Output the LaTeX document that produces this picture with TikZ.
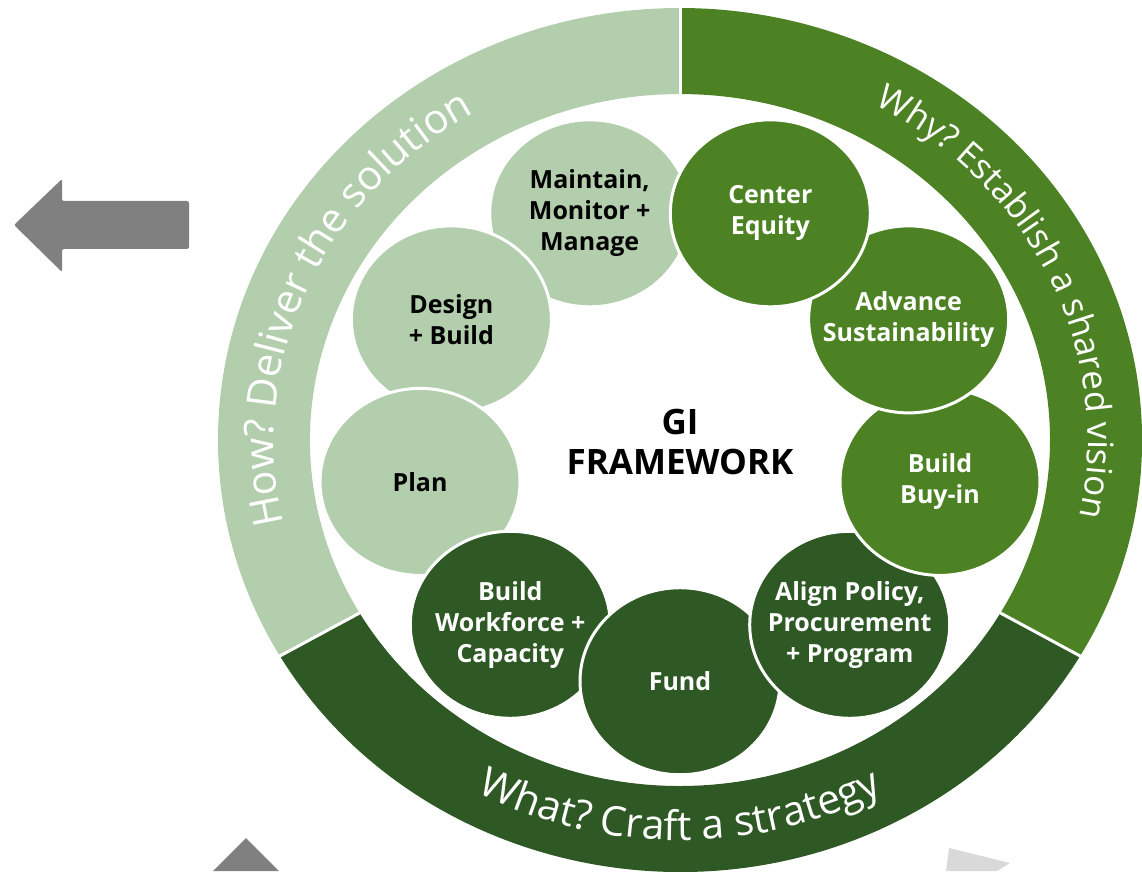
\documentclass[tikz,border=0pt]{standalone}
\usepackage{fontspec}
\setmainfont{Open Sans}
\usetikzlibrary{shapes.geometric,decorations.text}
\definecolor{gilight}{HTML}{B3CEAC}
\definecolor{gimid}{HTML}{4D8224}
\definecolor{gidark}{HTML}{2E5824}
\definecolor{arrowgray}{HTML}{808080}
\definecolor{arrowlight}{HTML}{D9D9D9}
\tikzset{
  stage/.style={ellipse, draw=white, line width=3pt, minimum width=200pt,
    minimum height=187pt, inner sep=0pt},
  stagetext/.style={align=center, inner sep=0pt,
    font=\bfseries\fontsize{25}{31}\selectfont},
  ringtext/.style 2 args={decorate, decoration={text along path, text align=center,
    text color=white, text={|\fontsize{#1}{#1}\selectfont|#2}}}
}
\begin{document}
\begin{tikzpicture}[x=1pt,y=1pt]
  \useasboundingbox (0,0) rectangle (1142,871);
  % Parámetros: centro, radios del anillo y radios de la órbita de los círculos
  \def\cx{680}
  \def\cy{431}
  \def\Rext{462}
  \def\Rint{370}
  \def\orbx{264}
  \def\orby{258}

  % Flechas grises (cortadas por el borde)
  \fill[arrowgray, rounded corners=2pt] (14,646) -- (62,692) -- (62,670) -- (189,670)
    -- (189,622) -- (62,622) -- (62,599) -- cycle;
  \fill[arrowgray] (213,0) -- (246,33) -- (279,0) -- cycle;
  \fill[arrowlight] (946,0) -- (949,23) -- (1010,8) -- (997,0) -- cycle;

  \begin{scope}[shift={(\cx,\cy)}, yscale=0.935]
    % Anillo exterior: tres sectores
    \fill[gilight] (90:\Rext) arc[start angle=90, end angle=210, radius=\Rext]
      -- (210:\Rint) arc[start angle=210, end angle=90, radius=\Rint] -- cycle;
    \fill[gidark] (210:\Rext) arc[start angle=210, end angle=330, radius=\Rext]
      -- (330:\Rint) arc[start angle=330, end angle=210, radius=\Rint] -- cycle;
    \fill[gimid] (330:\Rext) arc[start angle=330, end angle=450, radius=\Rext]
      -- (90:\Rint) arc[start angle=450, end angle=330, radius=\Rint] -- cycle;
    % Separaciones blancas entre sectores
    \foreach \a in {90,210,330}
      \draw[white, line width=3pt] (\a:365) -- (\a:467);

    % Textos del anillo
    \path[ringtext={41}{How? Deliver the solution}] (212:406)
      arc[start angle=212, end angle=102, radius=406];
    \path[ringtext={35}{Why? Establish a shared vision}] (80:408)
      arc[start angle=80, end angle=-31, radius=408];
    \path[ringtext={41}{What? Craft a strategy}] (210:428)
      arc[start angle=210, end angle=330, radius=428];

    % Círculos de las etapas (el orden fija el apilado)
    \foreach \a/\n/\col/\tc/\txt in {
        110/maintain/gilight/black/{Maintain,\\Monitor +\\Manage},
        150/design/gilight/black/{Design\\+ Build},
        190/plan/gilight/black/{Plan},
        230/workforce/gidark/white/{Build\\Workforce +\\Capacity},
        270/fund/gidark/white/{Fund},
        310/align/gidark/white/{Align Policy,\\Procurement\\+ Program},
        350/buyin/gimid/white/{Build\\Buy-in},
        30/sustain/gimid/white/{Advance\\Sustainability},
        70/equity/gimid/white/{Center\\Equity}}
    {
      \node[stage, fill=\col] (\n) at ({\orbx*cos(\a)},{\orby*sin(\a)}) {};
      \node[stagetext, text=\tc] (\n-txt) at (\n) {\txt};
    }

    % Título central
    \node[font=\bfseries\fontsize{35}{40}\selectfont, align=center] (title)
      at (0,-2) {GI\\FRAMEWORK};
  \end{scope}
\end{tikzpicture}
\end{document}
